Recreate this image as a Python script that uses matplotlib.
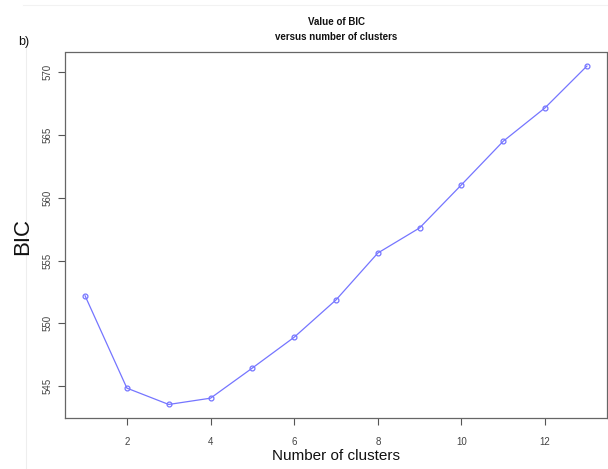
import matplotlib
matplotlib.use("Agg")
import matplotlib.pyplot as plt
from matplotlib.lines import Line2D

clusters = [1, 2, 3, 4, 5, 6, 7, 8, 9, 10, 11, 12, 13]
bic = [552.2, 544.85, 543.55, 544.05, 546.45, 548.9, 551.87, 555.6, 557.6,
       561.03, 564.5, 567.16, 570.48]
x_ticks = [2, 4, 6, 8, 10, 12]
y_ticks = [545, 550, 555, 560, 565, 570]

plt.rcParams['font.family'] = ['Liberation Sans', 'DejaVu Sans']

fig = plt.figure(figsize=(6.08, 4.69), dpi=100)
ax = fig.add_axes([65 / 608, 51 / 469, 542 / 608, 365.5 / 469])

line_col = '#7575ff'
ax.plot(clusters, bic, color=line_col, lw=0.9, marker='o', ms=3.5,
        mfc='none', mec=line_col, mew=0.9)

pad_x = 0.04 * (max(clusters) - min(clusters))
pad_y = 0.04 * (max(bic) - min(bic))
ax.set_xlim(min(clusters) - pad_x, max(clusters) + pad_x)
ax.set_ylim(min(bic) - pad_y, max(bic) + pad_y)

ax.set_xticks(x_ticks)
ax.set_yticks(y_ticks)
ax.tick_params(axis='both', direction='out', length=5, width=0.8,
               color='#555555', labelsize=7, labelcolor='#444444')
ax.tick_params(axis='x', pad=9)
ax.tick_params(axis='y', pad=4)
for lab in ax.get_yticklabels():
    lab.set_rotation(90)
    lab.set_va('center')
for sp in ax.spines.values():
    sp.set_color('#666666')
    sp.set_linewidth(0.9)

ax.set_xlabel('Number of clusters', fontsize=11, color='#111111', labelpad=1)
fig.text(23 / 608, 1 - 236 / 469, 'BIC', rotation=90, fontsize=16,
         ha='center', va='center', color='#111111')

fig.text(336 / 608, 1 - 22 / 469, 'Value of BIC', ha='center', va='center',
         fontsize=7, fontweight='bold', color='#111111')
fig.text(336 / 608, 1 - 37 / 469, 'versus number of clusters', ha='center',
         va='center', fontsize=7, fontweight='bold', color='#111111')
fig.text(24 / 608, 1 - 42 / 469, 'b)', ha='center', va='center',
         fontsize=9, color='#111111')

# faint page edges
fig.add_artist(Line2D([26 / 608, 26 / 608], [0, 1 - 48 / 469],
                      transform=fig.transFigure, color='#eeeeee', lw=0.8))
fig.add_artist(Line2D([23 / 608, 1], [1 - 5 / 469, 1 - 5 / 469],
                      transform=fig.transFigure, color='#f2f2f2', lw=0.8))

fig.savefig('out.png', dpi=100)
